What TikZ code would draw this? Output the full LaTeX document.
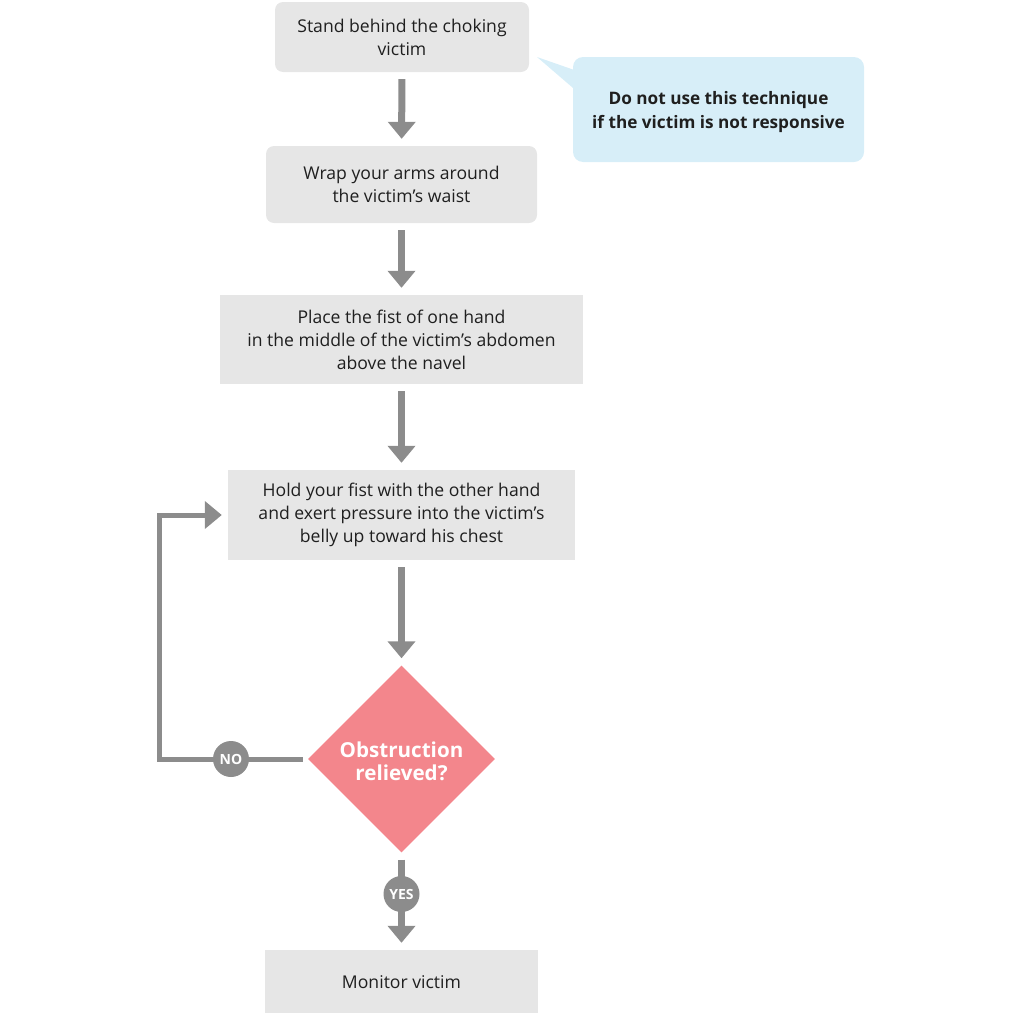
\documentclass[tikz,border=0pt]{standalone}
\usepackage{fontspec}
\setmainfont{Open Sans}
\usetikzlibrary{shapes.geometric,arrows.meta}
\definecolor{boxgray}{HTML}{E6E6E6}
\definecolor{arrgray}{HTML}{8C8C8C}
\definecolor{dpink}{HTML}{F3868C}
\definecolor{cblue}{HTML}{D7EEF8}
\definecolor{txt}{HTML}{1F1F1F}
\tikzset{
  stepbox/.style={fill=boxgray, text=txt, align=center, inner sep=0pt,
    font=\fontsize{17.6}{23}\selectfont},
  arr/.style={draw=arrgray, line width=7pt, -{Triangle[width=27pt,length=17pt]},
    shorten <=7pt, shorten >=7pt},
  looparr/.style={draw=arrgray, line width=5pt, -{Triangle[width=27pt,length=17pt]}},
  badge/.style={circle, fill=arrgray, text=white, minimum size=36pt, inner sep=0pt,
    font=\fontsize{14}{14}\bfseries\selectfont},
}
\begin{document}
\begin{tikzpicture}[x=1pt,y=-1pt]
\useasboundingbox (0,0) rectangle (1020,1012);
\node[stepbox, rounded corners=8pt, minimum width=254pt, minimum height=70pt] (b1) at (402,37)
  {Stand behind the choking\\victim};
\node[stepbox, rounded corners=8pt, minimum width=271pt, minimum height=77pt] (b2) at (401.5,184.5)
  {Wrap your arms around\\ the victim’s waist};
\node[stepbox, minimum width=363pt, minimum height=89pt] (b3) at (401.5,339.5)
  {Place the fist of one hand\\in the middle of the victim’s abdomen\\above the navel};
\node[stepbox, minimum width=347pt, minimum height=90pt] (b4) at (401.5,515)
  {Hold your fist with the other hand\\and exert pressure into the victim’s\\belly up toward his chest};
\node[diamond, fill=dpink, minimum width=187pt, minimum height=187pt, inner sep=0pt] (dia) at (401.5,759) {};
\node[text=white, align=center, font=\fontsize{20.6}{23}\bfseries\selectfont] (dtext) at ([yshift=-2.5pt]dia.center)
  {Obstruction\\relieved?};
\node[stepbox, minimum width=273pt, minimum height=64pt, text depth=0pt] (b6) at (401.5,982)
  {Monitor victim};
% callout
\fill[cblue] (537,57) -- (580,72) -- (580,94) -- cycle;
\node[fill=cblue, rounded corners=10pt, minimum width=291pt, minimum height=105pt] (co) at (718.5,109.5) {};
\node[text=txt, align=center, font=\fontsize{17.2}{24}\bfseries\selectfont] (cotext) at ([yshift=-3pt]co.center)
  {Do not use this technique\\if the victim is not responsive};
% arrows
\draw[arr] (b1) -- (b2);
\draw[arr] (b2) -- (b3);
\draw[arr] (b3) -- (b4);
\draw[arr] (b4) -- (dia);
\draw[arr] (dia) -- (b6);
\draw[looparr, shorten <=5pt, shorten >=6pt] (dia.west) -- ++(-148,0) |- (b4.west);
\node[badge] (no) at (231,759) {NO};
\node[badge] (yes) at (401.5,894) {YES};
\end{tikzpicture}
\end{document}
